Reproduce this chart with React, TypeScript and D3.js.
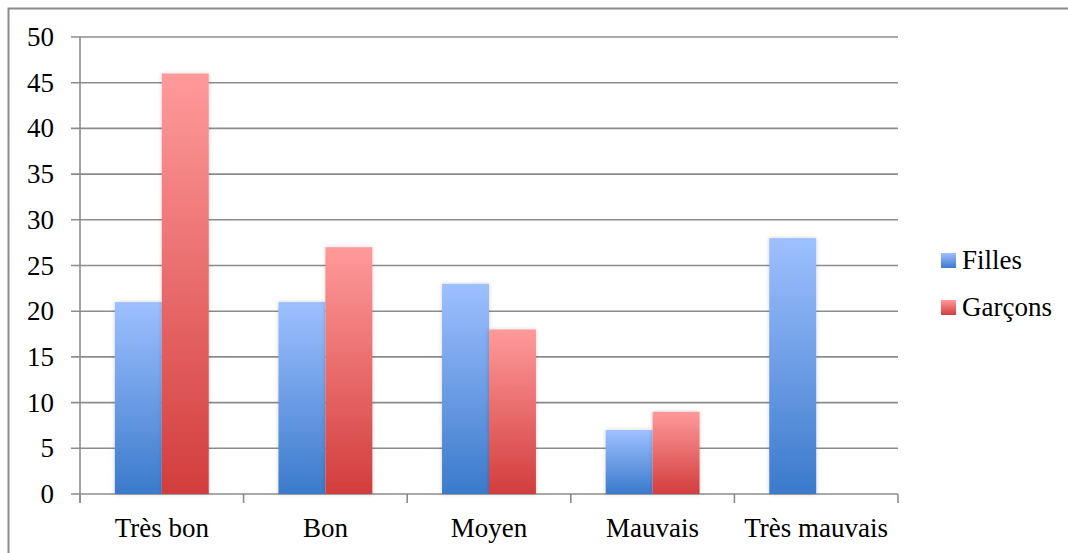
import { useEffect, useRef } from 'react';
import * as d3 from 'd3';

const categories = ['Très bon', 'Bon', 'Moyen', 'Mauvais', 'Très mauvais'];
const filles = [21, 21, 23, 7, 28];
const garcons = [46, 27, 18, 9, 0];
const seriesNames = ['Filles', 'Garçons'];
const yTicks = [0, 5, 10, 15, 20, 25, 30, 35, 40, 45, 50];

const width = 1068;
const height = 553;
const font = 'Liberation Serif, Tinos, Times New Roman, DejaVu Serif, serif';

export default function App() {
  const svgRef = useRef<SVGSVGElement>(null);

  useEffect(() => {
    if (!svgRef.current) return;
    const svg = d3.select(svgRef.current);
    svg.selectAll('*').remove();

    const plot = { left: 80, right: 898, top: 37, bottom: 494 };

    const x = d3.scaleBand<string>()
      .domain(categories)
      .range([plot.left, plot.right]);
    const y = d3.scaleLinear().domain([0, 50]).range([plot.bottom, plot.top]);
    const barW = x.bandwidth() * 0.287;

    const defs = svg.append('defs');
    const grads = [
      { id: 'g-blue', top: '#9ec0ff', bottom: '#3b7acb' },
      { id: 'g-red', top: '#ff9a9a', bottom: '#d23d3d' },
    ];
    grads.forEach((g) => {
      const lg = defs.append('linearGradient')
        .attr('id', g.id)
        .attr('x1', 0).attr('y1', 0).attr('x2', 0).attr('y2', 1);
      lg.append('stop').attr('offset', '0%').attr('stop-color', g.top);
      lg.append('stop').attr('offset', '100%').attr('stop-color', g.bottom);
    });
    const shadow = defs.append('filter').attr('id', 'shadow')
      .attr('x', '-20%').attr('y', '-10%').attr('width', '140%').attr('height', '120%');
    shadow.append('feDropShadow')
      .attr('dx', 0).attr('dy', 0).attr('stdDeviation', 2)
      .attr('flood-color', '#000').attr('flood-opacity', 0.18);

    // outer frame
    svg.append('rect')
      .attr('x', 8.5).attr('y', 8.5)
      .attr('width', width + 10).attr('height', height + 10)
      .attr('fill', 'none').attr('stroke', '#8a8a8a').attr('stroke-width', 2);

    // gridlines + y ticks
    svg.append('g')
      .selectAll('line')
      .data(yTicks)
      .join('line')
      .attr('x1', plot.left - 9)
      .attr('x2', plot.right)
      .attr('y1', (d) => y(d))
      .attr('y2', (d) => y(d))
      .attr('stroke', '#8c8c8c')
      .attr('stroke-width', 1.6);

    svg.append('g')
      .selectAll('text')
      .data(yTicks)
      .join('text')
      .attr('x', 54)
      .attr('y', (d) => y(d) + 9)
      .attr('text-anchor', 'end')
      .style('font-family', font)
      .attr('font-size', 27)
      .attr('fill', '#000')
      .text((d) => d);

    // y axis line
    svg.append('line')
      .attr('x1', plot.left).attr('x2', plot.left)
      .attr('y1', plot.top).attr('y2', plot.bottom + 9)
      .attr('stroke', '#8c8c8c').attr('stroke-width', 1.6);

    // x tick marks
    const xTickPos = categories.map((c) => x(c)!).concat([plot.right]);
    svg.append('g')
      .selectAll('line')
      .data(xTickPos)
      .join('line')
      .attr('x1', (d) => d).attr('x2', (d) => d)
      .attr('y1', plot.bottom).attr('y2', plot.bottom + 9)
      .attr('stroke', '#8c8c8c').attr('stroke-width', 1.6);

    // bars
    const series = [filles, garcons];
    series.forEach((vals, si) => {
      svg.append('g')
        .attr('filter', 'url(#shadow)')
        .selectAll('rect')
        .data(categories.map((c, i) => ({ c, v: vals[i] })).filter((d) => d.v > 0))
        .join('rect')
        .attr('x', (d) => x(d.c)! + x.bandwidth() / 2 - barW + si * barW)
        .attr('width', barW)
        .attr('y', (d) => y(d.v))
        .attr('height', (d) => y(0) - y(d.v))
        .attr('fill', `url(#${grads[si].id})`);
    });

    // x labels
    svg.append('g')
      .selectAll('text')
      .data(categories)
      .join('text')
      .attr('x', (d) => x(d)! + x.bandwidth() / 2)
      .attr('y', 537)
      .attr('text-anchor', 'middle')
      .style('font-family', font)
      .attr('font-size', 27)
      .attr('fill', '#000')
      .text((d) => d);

    // legend
    const legend = svg.append('g');
    seriesNames.forEach((name, i) => {
      const ly = 261 + i * 47;
      legend.append('rect')
        .attr('x', 941).attr('y', ly - 8)
        .attr('width', 15).attr('height', 15)
        .attr('fill', `url(#${grads[i].id})`);
      legend.append('text')
        .attr('x', 962).attr('y', ly + 8)
        .style('font-family', font)
        .attr('font-size', 27)
        .attr('fill', '#000')
        .text(name);
    });
  }, []);

  return (
    <div style={{ position: 'absolute', left: 0, top: 0, width, height, background: '#fff', overflow: 'hidden' }}>
      <svg ref={svgRef} width={width} height={height} />
    </div>
  );
}
